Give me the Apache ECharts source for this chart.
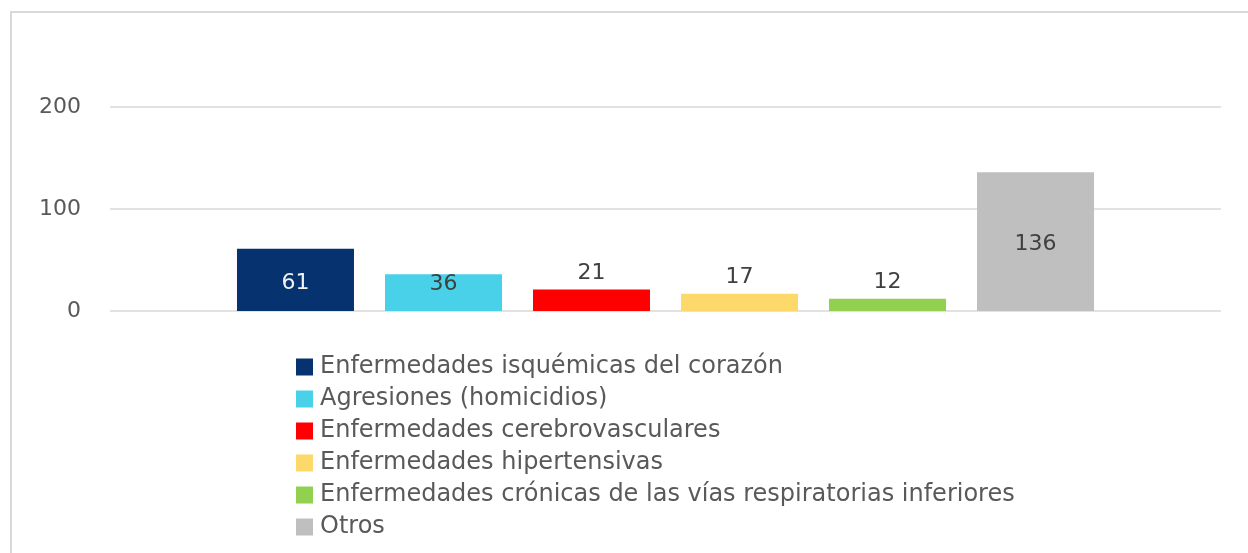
<!DOCTYPE html>
<html>
<head>
<meta charset="utf-8">
<script src="https://cdn.jsdelivr.net/npm/echarts@6/dist/echarts.min.js"></script>
<style>
	html, body { margin: 0; padding: 0; background: #fff; overflow: hidden; width: 1248px; height: 553px; position: relative; }
	#frame { position: absolute; left: 10px; top: 11px; width: 1300px; height: 600px; border-top: 2px solid #d9d9d9; border-left: 2px solid #d9d9d9; }
	#chart { position: absolute; left: 0; top: 0; width: 1248px; height: 553px; }
</style>
</head>
<body>
<div id="frame"></div>
<div id="chart"></div>
<script>
// datos
const causes = [
	'Enfermedades isquémicas del corazón',
	'Agresiones (homicidios)',
	'Enfermedades cerebrovasculares',
	'Enfermedades hipertensivas',
	'Enfermedades crónicas de las vías respiratorias inferiores',
	'Otros'
]
const deaths = [61, 36, 21, 17, 12, 136]
const colors = ['#06336f', '#48d1e8', '#ff0000', '#fdd86a', '#92d050', '#bfbfbf']
const yTicks = [0, 100, 200]

const fontFamily = '"DejaVu Sans", sans-serif'

// label placement per bar (Excel-style)
const labelStyle = [
	{ position: 'inside', offset: [0, 3], color: '#f2f2f2' },
	{ position: 'top', distance: -21, color: '#404040' },
	{ position: 'top', distance: 5, color: '#404040' },
	{ position: 'top', distance: 5, color: '#404040' },
	{ position: 'top', distance: 5, color: '#404040' },
	{ position: 'inside', offset: [0, 3], color: '#404040' }
]

const myChart = echarts.init(document.getElementById('chart'))

const series = causes.map((name, i) => ({
	name: name,
	type: 'bar',
	data: [deaths[i]],
	barWidth: 117,
	barGap: '26.5%',
	itemStyle: { color: colors[i] },
	label: {
		show: true,
		fontFamily: fontFamily,
		fontSize: 22,
		...labelStyle[i]
	}
}))

myChart.setOption({
	animation: false,
	grid: {
		left: 110,
		right: 27,
		top: 107,
		bottom: 242
	},
	legend: {
		orient: 'vertical',
		left: 291,
		top: 350,
		itemWidth: 17,
		itemHeight: 17,
		itemGap: 8,
		icon: 'rect',
		textStyle: { fontFamily: fontFamily, fontSize: 24, color: '#595959', padding: [0, 0, 0, 2] },
		data: causes
	},
	xAxis: {
		type: 'category',
		data: [''],
		axisLine: { show: false },
		axisTick: { show: false },
		axisLabel: { show: false }
	},
	yAxis: {
		type: 'value',
		min: yTicks[0],
		max: yTicks[yTicks.length - 1],
		interval: yTicks[1] - yTicks[0],
		axisLabel: { fontFamily: fontFamily, fontSize: 22, color: '#595959', margin: 29 },
		splitLine: { lineStyle: { color: '#d9d9d9', width: 1.5 } }
	},
	series: series
})
</script>
</body>
</html>
